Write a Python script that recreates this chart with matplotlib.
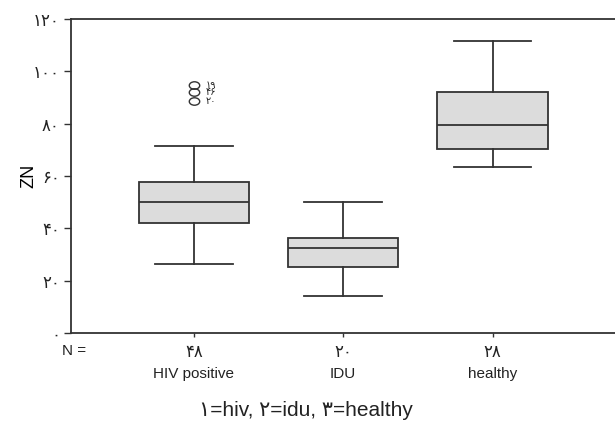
import matplotlib
matplotlib.use("Agg")
import matplotlib.pyplot as plt
from matplotlib.path import Path
from matplotlib.transforms import Affine2D

plt.rcParams['font.family'] = ['Liberation Sans', 'DejaVu Sans']

# box plot summary values
groups = ['HIV positive', 'IDU', 'healthy']
counts = ['۴۸', '۲۰', '۲۸']
whislo = [26.4, 14.3, 63.3]
q1 = [42.1, 25.1, 70.4]
med = [50.2, 32.5, 79.5]
q3 = [57.7, 36.2, 92.2]
whishi = [71.6, 50.2, 111.6]
fliers = [[94.8, 92.0, 88.6], [], []]
flier_ids = [['۱۹', '۴۶', '۲۰'], [], []]

yticks = [0, 20, 40, 60, 80, 100, 120]
yticklabels = ['۰', '۲۰', '۴۰', '۶۰', '۸۰', '۱۰۰', '۱۲۰']

line_c = '#333333'
box_c = '#dcdcdc'

fig = plt.figure(figsize=(6.15, 4.25), dpi=100)
ax = fig.add_axes([71/615, 92/425, 1 - 71/615, (333-19)/425])

stats = []
for i in range(len(groups)):
    stats.append(dict(whislo=whislo[i], q1=q1[i], med=med[i], q3=q3[i],
                      whishi=whishi[i], fliers=fliers[i]))

oval = Path.unit_circle().transformed(Affine2D().scale(1.4, 1.0))
ax.bxp(stats, positions=[1, 2, 3], widths=0.74, patch_artist=True,
       boxprops=dict(facecolor=box_c, edgecolor=line_c, linewidth=1.3),
       medianprops=dict(color=line_c, linewidth=1.3),
       whiskerprops=dict(color=line_c, linewidth=1.3),
       capprops=dict(color=line_c, linewidth=1.3),
       capwidths=0.52,
       flierprops=dict(marker=oval, markersize=7.5, markerfacecolor='none',
                       markeredgecolor=line_c, markeredgewidth=1.0))

for i in range(len(groups)):
    for v, lab in zip(fliers[i], flier_ids[i]):
        ax.text(i + 1 + 0.08, v, lab, fontsize=7, va='center', ha='left',
                color='#222222', family=['DejaVu Sans'])

ax.set_xlim(0.177, 3.82)
ax.set_ylim(0, 120)
ax.set_yticks(yticks)
ax.set_yticklabels(yticklabels, family=['DejaVu Sans'], fontsize=12)
ax.set_xticks([1, 2, 3])
ax.set_xticklabels(counts, family=['DejaVu Sans'], fontsize=12)
ax.tick_params(axis='both', direction='out', length=5, width=1.0,
               color=line_c, labelcolor='#222222', pad=3)
ax.tick_params(axis='x', length=3, pad=4)

ax.spines['right'].set_visible(False)
for s in ['left', 'bottom', 'top']:
    ax.spines[s].set_color(line_c)
    ax.spines[s].set_linewidth(1.3)

ax.set_ylabel('ZN', fontsize=13, labelpad=-3)

for i, g in enumerate(groups):
    ax.text(i + 1, -15.5, g, ha='center', va='center', fontsize=11,
            color='#222222')
fig.text(62/615, 1 - 351/425, 'N =', ha='left', va='center', fontsize=11,
         color='#222222')
fig.text(306/615, 1 - 410/425, '۱=hiv, ۲=idu, ۳=healthy', ha='center',
         va='center', fontsize=15, color='#222222')

fig.savefig('out.png', dpi=100)
